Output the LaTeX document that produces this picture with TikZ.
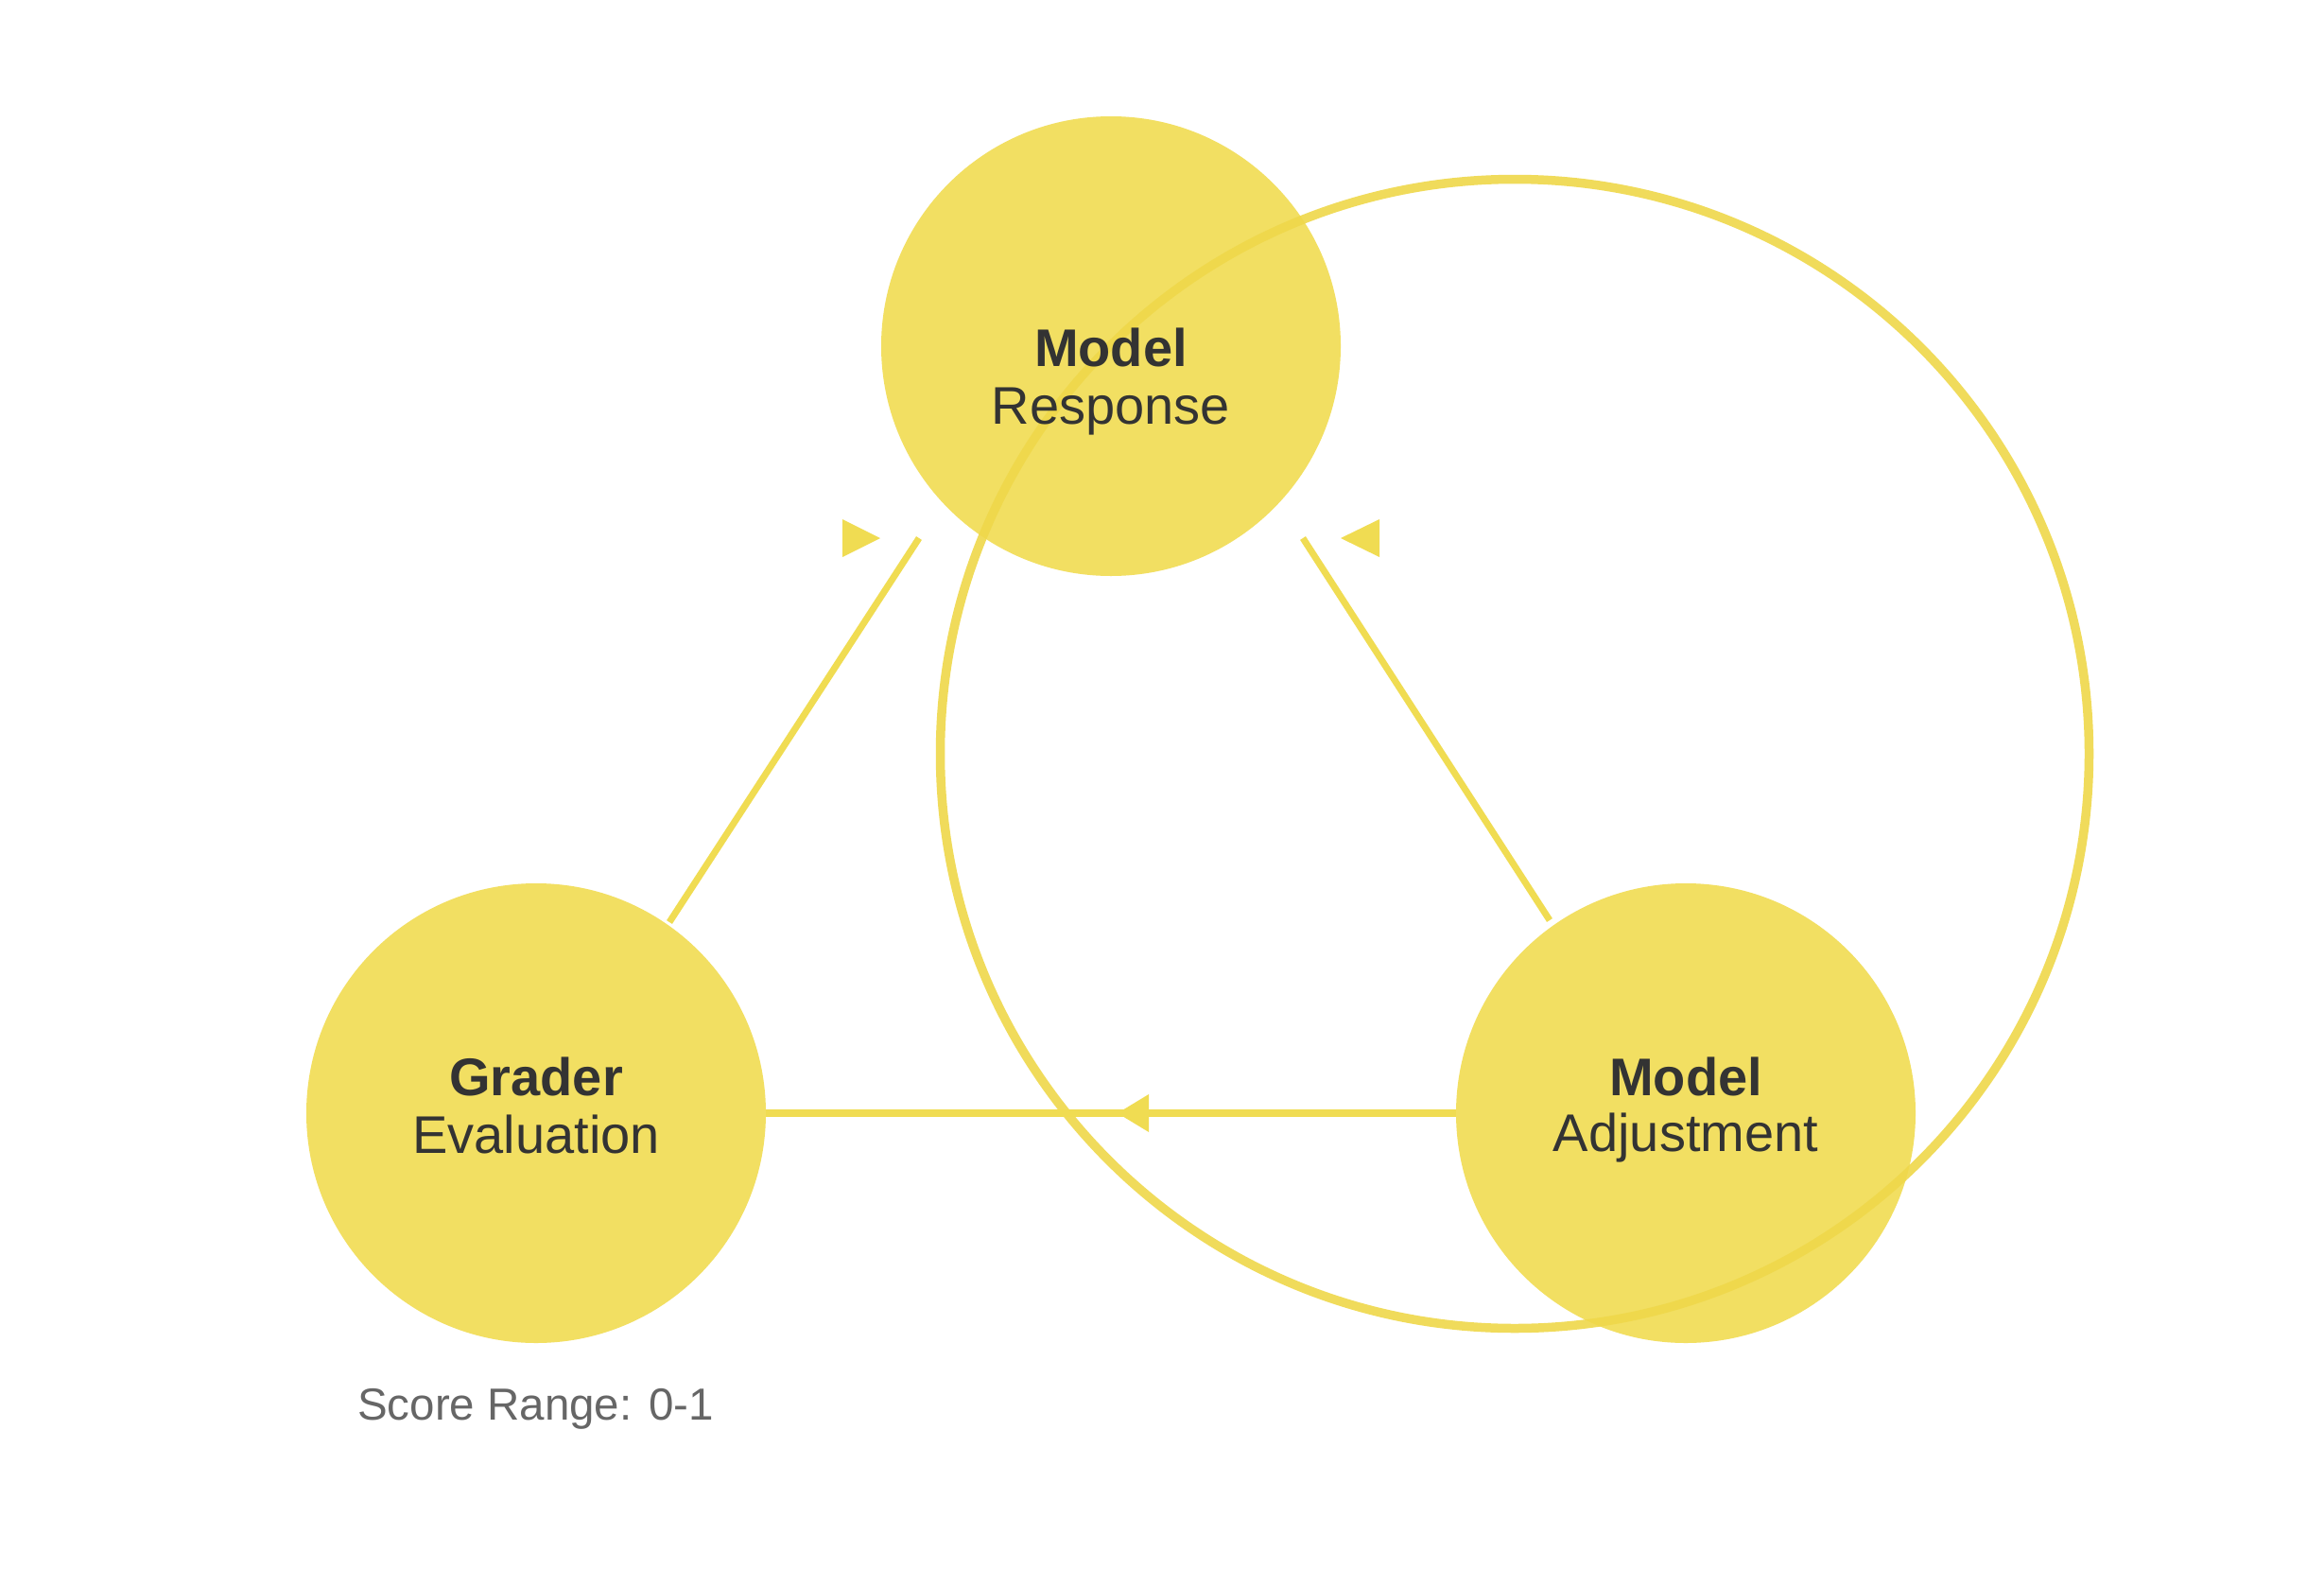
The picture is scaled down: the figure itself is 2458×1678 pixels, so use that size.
\documentclass[tikz,border=0pt]{standalone}
\usepackage{fontspec}
\setmainfont{Liberation Sans}
\definecolor{bubblefill}{HTML}{F2DF62}
\definecolor{ringcol}{HTML}{EFD84A}
\definecolor{linecol}{HTML}{F0DC52}
\definecolor{txt}{HTML}{333333}
\definecolor{note}{HTML}{666666}
\tikzset{
  bubble/.style={circle, fill=bubblefill, draw=none, minimum size=486pt, inner sep=0pt},
  ringline/.style={draw=ringcol, line width=9.5pt, opacity=0.9},
  conn/.style={draw=linecol, line width=7pt},
  hconn/.style={draw=linecol, line width=8pt},
  tip/.style={fill=linecol, draw=none},
  title/.style={anchor=base, text=txt, font=\fontsize{56}{60}\selectfont\bfseries, inner sep=0pt},
  sub/.style={anchor=base, text=txt, font=\fontsize{56}{60}\selectfont, inner sep=0pt},
  notetext/.style={anchor=base west, text=note, font=\fontsize{47.5}{52}\selectfont, inner sep=0pt}
}
\begin{document}
\begin{tikzpicture}[x=1pt,y=-1pt]
\useasboundingbox (0,0) rectangle (2458,1678);
\fill[white] (0,0) rectangle (2458,1678);
% circles
\node[bubble] (resp) at (1175,366) {};
\node[bubble] (grad) at (567,1177) {};
\node[bubble] (adj) at (1783,1177) {};
% big ring
\coordinate (ringc) at (1602,797);
\draw[ringline] (ringc) circle[radius=607.5];
% connectors
\coordinate (l1) at (708,975);
\coordinate (l2) at (972,569);
\coordinate (r1) at (1639,973);
\coordinate (r2) at (1378,569);
\draw[conn] (l1) -- (l2);
\draw[conn] (r1) -- (r2);
\draw[hconn] (adj.west) -- (grad.east);
% arrow tips
\coordinate (ht) at (1182,1177);
\fill[tip] (ht) -- ++(33,-20) -- ++(0,40) -- cycle;
\coordinate (lt) at (931,569);
\fill[tip] (lt) -- ++(-40,-20) -- ++(0,40) -- cycle;
\coordinate (rt) at (1418,569);
\fill[tip] (rt) -- ++(41,-20) -- ++(0,40) -- cycle;
% texts
\node[title] (respa) at (1175,387) {Model};
\node[sub] (respb) at (1175,448) {Response};
\node[title] (grada) at (567,1158) {Grader};
\node[sub] (gradb) at (567,1219) {Evaluation};
\node[title] (adja) at (1783,1158) {Model};
\node[sub] (adjb) at (1783,1217) {Adjustment};
\node[notetext] (score) at (378,1501) {Score Range: 0-1};
\end{tikzpicture}
\end{document}
